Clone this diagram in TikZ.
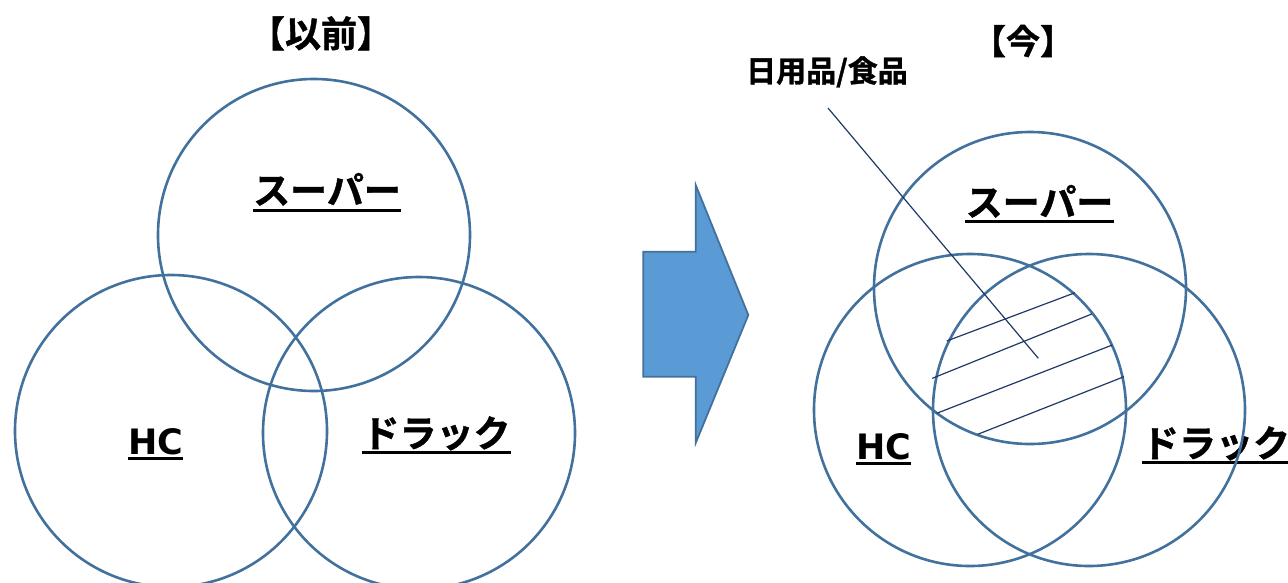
\documentclass[tikz,border=0pt]{standalone}
\usepackage{fontspec}
\newfontfamily\jpfont{Noto Sans CJK JP}[BoldFont={Noto Sans CJK JP Bold}, BoldFeatures={FakeBold=1.2}]
\newfontfamily\latfont{DejaVu Sans}
\definecolor{ring}{HTML}{41719C}
\definecolor{arrowfill}{HTML}{5B9BD5}
\definecolor{navy}{HTML}{1F3864}
\tikzset{
  ring/.style={circle, draw=ring, line width=2.6pt, minimum size=312pt, inner sep=0pt},
  lbl/.style={inner sep=0pt, anchor=base, font=\jpfont\bfseries\fontsize{37}{40}\selectfont},
  hclbl/.style={inner sep=0pt, anchor=base, font=\latfont\bfseries\fontsize{35}{40}\selectfont},
  ttl/.style={inner sep=0pt, anchor=base, font=\jpfont\bfseries\fontsize{36}{40}\selectfont},
  ul/.style={line width=3pt, black},
  thinline/.style={draw=navy, line width=1.2pt},
}
\begin{document}
\begin{tikzpicture}[x=1pt, y=-1pt]
\useasboundingbox (0,0) rectangle (1288,582);
% titles
\node[ttl] (t1) at (321,47) {【以前】};
\node[ttl, font=\jpfont\bfseries\fontsize{34}{40}\selectfont] (t2) at (1023,54) {【今】};
\node[inner sep=0pt, anchor=base, font=\jpfont\bfseries\fontsize{30}{32}\selectfont] (cat) at (827,82) {日用品/食品};
% labels left
\node[lbl] (s1) at (327,204) {スーパー};
\node[hclbl] (h1) at (155.5,454) {HC};
\node[lbl] (d1) at (436.5,447) {ドラック};
% labels right
\node[lbl] (s2) at (1039.5,216) {スーパー};
\node[hclbl] (h2) at (883.5,459) {HC};
\node[lbl] (d2) at (1216,457) {ドラック};
% underlines
\foreach \n/\d in {s1/6,h1/4,d1/5.3,s2/5.7,h2/4,d2/5.7}{
  \draw[ul] ([yshift=-\d pt]\n.base west) -- ([yshift=-\d pt]\n.base east);
}
% circles left
\node[ring] (c1) at (314,235) {};
\node[ring] (c2) at (171,431) {};
\node[ring] (c3) at (419,433) {};
% circles right
\node[ring] (c4) at (1030,288) {};
\node[ring] (c5) at (970,410) {};
\node[ring] (c6) at (1089,410) {};
% hatch lines
\draw[thinline] (946.7,341) -- (1075,292.7);
\draw[thinline] (932.3,378.3) -- (1091.7,314);
\draw[thinline] (936.7,413.3) -- (1112.3,345);
\draw[thinline] (977.7,434.3) -- (1124,376.7);
% leader
\coordinate (lt) at (828,108);
\coordinate (lh) at (1038.3,358.3);
\draw[thinline] (lt) -- (lh);
% arrow
\draw[fill=arrowfill, draw=ring, line width=1.8pt, line join=miter]
  (643.3,251.7) -- (695.7,251.7) -- (695.7,185) -- (748.3,315) -- (695.7,443) -- (695.7,376.7) -- (643.3,376.7) -- cycle;
\end{tikzpicture}
\end{document}
